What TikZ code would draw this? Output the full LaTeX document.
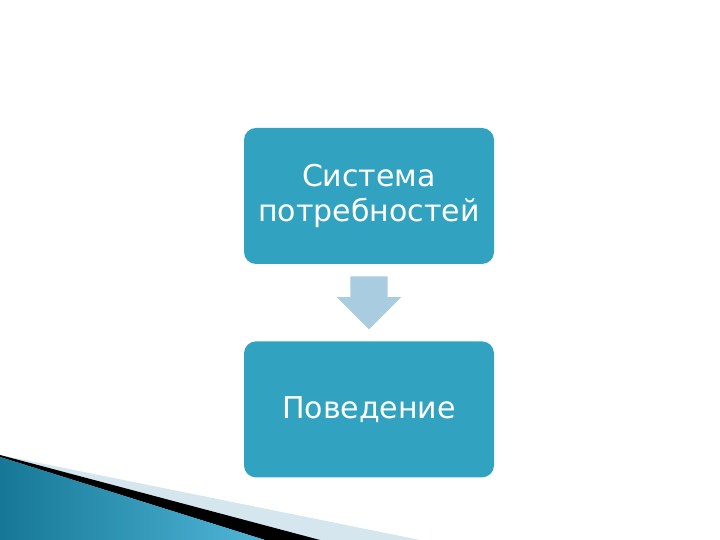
\documentclass[tikz,border=0pt]{standalone}
\usepackage{fontspec}
\setmainfont{DejaVu Sans}
\usetikzlibrary{positioning,shapes.arrows}
\definecolor{boxblue}{RGB}{49,163,193}
\definecolor{arrowblue}{RGB}{170,204,224}
\definecolor{stripe}{RGB}{214,230,238}
\definecolor{deepteal}{RGB}{22,120,150}
\definecolor{paleteal}{RGB}{80,182,216}

\begin{document}
\begin{tikzpicture}[x=1pt,y=1pt]
\tikzstyle{stagebox}=[rectangle,rounded corners=12pt,fill=boxblue,text=white,
minimum width=250pt,minimum height=136pt,inner sep=0pt,align=center,
font=\fontsize{30}{35}\selectfont]
\tikzstyle{downarrow}=[single arrow,fill=arrowblue,shape border rotate=270,
minimum height=53pt,inner xsep=18.5pt,inner ysep=4pt,
single arrow head extend=13.5pt]

\useasboundingbox (0,0) rectangle (720,540);

%% Slide corner decoration
\fill[stripe] (0,85) -- (420,0) -- (0,0) -- cycle;
\fill[black] (0,85) -- (320,0) -- (265,0) -- (0,83) -- cycle;
\shade[left color=deepteal,right color=paleteal] (0,83) -- (265,0) -- (0,0) -- cycle;

%% Draw the two stages and the arrow between them
\node [stagebox] at (369,344) (sys) {Система\\потребностей};
\node [stagebox,below=77pt of sys] (beh) {Поведение};
\node [downarrow,anchor=tail,below=12pt of sys.south] (arr) {};
\end{tikzpicture}
\end{document}
